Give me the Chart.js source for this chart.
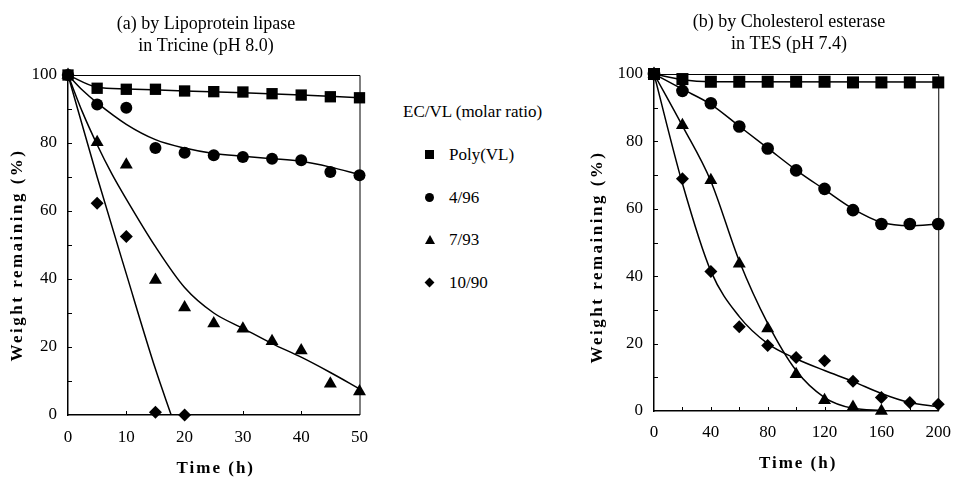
<!DOCTYPE html>
<html>
<head>
<meta charset="utf-8">
<script src="https://cdn.jsdelivr.net/npm/chart.js@4/dist/chart.umd.min.js"></script>
<style>
    body { margin: 0; background: #fff; }
    #wrap { position: relative; width: 962px; height: 479px; overflow: hidden; font-family: 'Liberation Serif', serif; color: #000; }
    canvas { position: absolute; top: 0; }
    #chartA { left: 0; }
    #chartB { left: 580px; }
    #legend { position: absolute; left: 403px; top: 0; font-size: 17px; }
    #legend .ttl { position: absolute; left: 0; top: 102px; white-space: nowrap; }
    #legend .item { position: absolute; left: 0; height: 22px; line-height: 22px; white-space: nowrap; }
    #legend .mk { position: absolute; background: #000; }
    #legend .lbl { position: absolute; left: 46px; top: 0; }
    .sq { left: 22px; top: 6px; width: 9px; height: 9px; }
    .ci { left: 22px; top: 6px; width: 9px; height: 9px; border-radius: 50%; }
    .tr { left: 22px; top: 6px; width: 0; height: 0; background: none !important; border-left: 5px solid transparent; border-right: 5px solid transparent; border-bottom: 9px solid #000; }
    .di { left: 23px; top: 7px; width: 7px; height: 7px; transform: rotate(45deg); }
</style>
</head>
<body>
<div id="wrap">
    <canvas id="chartA" width="380" height="479"></canvas>
    <canvas id="chartB" width="382" height="479"></canvas>
    <div id="legend"></div>
</div>
<script>
// (a) Lipoprotein lipase, Tricine pH 8.0
const timeA = [0, 5, 10, 15, 20, 25, 30, 35, 40, 45, 50];
const polyA = [100, 96.1, 95.8, 95.8, 95.3, 95.1, 95, 94.5, 94.1, 93.6, 93.3];
const ec4A = [100, 91.3, 90.4, 78.5, 77.1, 76.4, 75.9, 75.4, 74.9, 71.5, 70.5];
const ec7A = [100, 80.2, 73.6, 39.7, 31.6, 26.9, 25.4, 21.7, 19, 9.2, 6.9];
const ec10A = [100, 62.3, 52.5, 0.8, 0];

// fitted curves (a)
const fitPolyA_t = [0, 5, 10, 20, 30, 40, 50];
const fitPolyA = [100, 96.4, 95.9, 95.3, 94.8, 94.1, 93.3];
const fitEc4A_t = [0, 2.5, 5, 10, 15, 20, 25, 30, 35, 40, 45, 50];
const fitEc4A = [100, 95.5, 91.8, 85.5, 81, 78.5, 76.9, 76.1, 75.4, 74.6, 72.9, 70.7];
const fitEc7A_t = [0, 2.5, 5, 7.5, 10, 15, 20, 25, 30, 35, 40, 45, 50];
const fitEc7A = [100, 89, 79.5, 71, 63.5, 49.5, 37.5, 30, 25.5, 21, 17, 12.5, 7.7];
const fitEc10A_t = [0, 5, 10, 15, 17.7];
const fitEc10A = [100, 70, 41.5, 13.5, 0];

// (b) Cholesterol esterase, TES pH 7.4
const timeB = [0, 20, 40, 60, 80, 100, 120, 140, 160, 180, 200];
const polyB = [100, 98.5, 97.7, 97.7, 97.7, 97.7, 97.7, 97.5, 97.5, 97.5, 97.5];
const ec4B = [100, 95, 91.3, 84.4, 77.9, 71.4, 65.9, 59.6, 55.5, 55.5, 55.5];
const ec7B = [100, 84.8, 68.5, 43.7, 24.5, 10.9, 3.2, 1.2, 0];
const ec10B = [100, 68.9, 41.4, 25, 19.4, 15.9, 14.9, 8.8, 4, 2.5, 2];

// fitted curves (b)
const fitPolyB_t = [0, 20, 40, 200];
const fitPolyB = [100, 98.3, 97.7, 97.6];
const fitEc4B_t = timeB;
const fitEc4B = [100, 95.5, 91, 84.5, 78, 71.5, 65.7, 60, 56, 55, 55.5];
const fitEc7B_t = [0, 20, 40, 60, 80, 100, 120, 140, 160];
const fitEc7B = [100, 84.6, 68.2, 44.5, 26, 12, 4, 0.8, 0.2];
const fitEc10B_t = timeB;
const fitEc10B = [100, 67.5, 41.5, 28, 20, 15.5, 12, 8.8, 5.2, 2.5, 1.3];

const yTicks = [0, 20, 40, 60, 80, 100];
const seriesNames = ['Poly(VL)', '4/96', '7/93', '10/90'];
const markerStyles = ['rect', 'circle', 'triangle', 'rectRot'];
const legendTitle = 'EC/VL (molar ratio)';
const yTitle = 'Weight remaining (%)';
const xTitle = 'Time (h)';

const FONT = 'Liberation Serif';
Chart.defaults.font.family = FONT;
Chart.defaults.color = '#000';

function pts(xs, ys) {
    return ys.map((y, i) => ({ x: xs[i], y }));
}

function fitSet(xs, ys) {
    return {
        data: pts(xs, ys),
        borderColor: '#000',
        borderWidth: 1.5,
        pointRadius: 0,
        cubicInterpolationMode: 'monotone',
        fill: false
    };
}

function markSet(xs, ys, k, r) {
    return {
        label: seriesNames[k],
        data: pts(xs, ys),
        showLine: false,
        pointStyle: markerStyles[k],
        pointRadius: r[k],
        pointBackgroundColor: '#000',
        pointBorderColor: '#000',
        pointBorderWidth: 0,
        clip: false
    };
}

// frame, inward ticks, titles
const decor = {
    id: 'decor',
    afterDraw(chart, args, o) {
        const { ctx, chartArea: a, scales: { x, y } } = chart;
        ctx.save();
        ctx.strokeStyle = '#000';
        ctx.lineWidth = 1;
        ctx.beginPath();
        ctx.moveTo(a.left, a.top + 0.5);
        ctx.lineTo(a.right + 0.5, a.top + 0.5);
        ctx.lineTo(a.right + 0.5, a.bottom);
        for (let v = 10; v < 100; v += 10) {
            const py = Math.round(y.getPixelForValue(v)) + 0.5;
            ctx.moveTo(a.left, py);
            ctx.lineTo(a.left + 4, py);
        }
        for (let v = o.xStep; v < x.max; v += o.xStep) {
            const px = Math.round(x.getPixelForValue(v)) + 0.5;
            ctx.moveTo(px, a.bottom);
            ctx.lineTo(px, a.bottom - 4);
        }
        ctx.stroke();

        ctx.fillStyle = '#000';
        ctx.textAlign = 'center';
        ctx.textBaseline = 'middle';
        ctx.font = `18px "${FONT}"`;
        o.title.forEach((t, i) => ctx.fillText(t, o.titleX, o.titleY[i]));

        ctx.font = `bold 17px "${FONT}"`;
        ctx.letterSpacing = '2px';
        ctx.fillText(xTitle, (a.left + a.right) / 2 + 2, o.xTitleY);
        ctx.letterSpacing = '2.5px';
        ctx.translate(o.yTitleX, o.yTitleY);
        ctx.rotate(-Math.PI / 2);
        ctx.fillText(yTitle, 0, 0);
        ctx.restore();
    }
};

function makeChart(id, cfg) {
    return new Chart(document.getElementById(id), {
        type: 'line',
        data: { datasets: cfg.datasets },
        options: {
            responsive: false,
            animation: false,
            layout: { padding: { top: cfg.top, right: cfg.right, left: 0, bottom: 0 } },
            plugins: {
                legend: { display: false },
                tooltip: { enabled: false },
                decor: cfg.decor
            },
            scales: {
                x: {
                    type: 'linear',
                    min: 0,
                    max: cfg.xMax,
                    grid: { display: false, drawTicks: false },
                    border: { display: true, color: '#000', width: 1.5 },
                    ticks: { stepSize: cfg.xLabelStep, color: '#000', padding: cfg.xPad, font: { family: FONT, size: 17 } },
                    afterFit: s => { s.height = cfg.xHeight; }
                },
                y: {
                    min: 0,
                    max: 100,
                    grid: { display: false, drawTicks: false },
                    border: { display: true, color: '#000', width: 1.5 },
                    afterBuildTicks: s => { s.ticks = yTicks.map(v => ({ value: v })); },
                    ticks: { color: '#000', padding: 11, font: { family: FONT, size: 17 } },
                    afterFit: s => { s.width = cfg.yWidth; }
                }
            }
        },
        plugins: [decor]
    });
}

const rA = [8, 6, 7.5, 6.5];
makeChart('chartA', {
    xMax: 50, xLabelStep: 10, xPad: 12, xHeight: 64, yWidth: 68, top: 75, right: 20,
    datasets: [
        fitSet(fitPolyA_t, fitPolyA),
        fitSet(fitEc4A_t, fitEc4A),
        fitSet(fitEc7A_t, fitEc7A),
        fitSet(fitEc10A_t, fitEc10A),
        markSet(timeA, polyA, 0, rA),
        markSet(timeA, ec4A, 1, rA),
        markSet(timeA, ec7A, 2, rA),
        markSet(timeA, ec10A, 3, rA)
    ],
    decor: {
        xStep: 10,
        title: ['(a) by Lipoprotein lipase', 'in Tricine (pH 8.0)'],
        titleX: 206, titleY: [24, 46],
        xTitleY: 469, yTitleX: 18, yTitleY: 255
    }
});

const rB = [8.5, 6.3, 7.5, 6.5];
makeChart('chartB', {
    xMax: 200, xLabelStep: 40, xPad: 11, xHeight: 68, yWidth: 74, top: 74, right: 14,
    datasets: [
        fitSet(fitPolyB_t, fitPolyB),
        fitSet(fitEc4B_t, fitEc4B),
        fitSet(fitEc7B_t, fitEc7B),
        fitSet(fitEc10B_t, fitEc10B),
        markSet(timeB, polyB, 0, rB),
        markSet(timeB, ec4B, 1, rB),
        markSet(timeB.slice(0, ec7B.length), ec7B, 2, rB),
        markSet(timeB, ec10B, 3, rB)
    ],
    decor: {
        xStep: 20,
        title: ['(b) by Cholesterol esterase', 'in TES (pH 7.4)'],
        titleX: 209, titleY: [22, 44],
        xTitleY: 464, yTitleX: 18, yTitleY: 257
    }
});

// legend
const legend = document.getElementById('legend');
const markCls = ['sq', 'ci', 'tr', 'di'];
legend.innerHTML = `<div class="ttl">${legendTitle}</div>` +
    seriesNames.map((n, i) =>
        `<div class="item" style="top:${144 + i * 42.7}px"><span class="mk ${markCls[i]}"></span><span class="lbl">${n}</span></div>`
    ).join('');
</script>
</body>
</html>
